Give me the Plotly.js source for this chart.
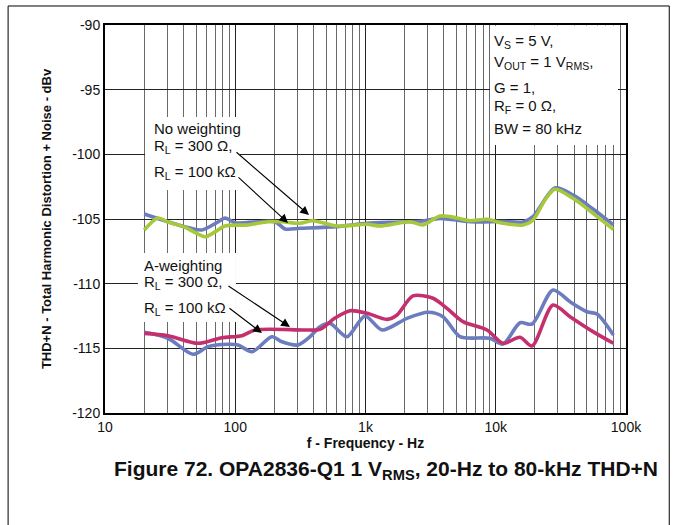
<!DOCTYPE html>
<html>
<head>
<meta charset="utf-8">
<script src="https://cdn.plot.ly/plotly-3.0.1.min.js"></script>
<style>html,body{margin:0;padding:0;background:#fff;}#chart{width:673px;height:525px;}</style>
</head>
<body>
<div id="chart"></div>
<script>
// No weighting, RL = 300 ohm (green)
const nwGreenFreq = [20, 25.5, 30.4, 41.1, 58.6, 69.9, 83.4, 125, 178, 228.5, 314, 395, 604, 1027, 1292, 2196, 2763, 3733, 5040, 6343, 8566, 11370, 16190, 19320, 23880, 28500, 39190, 55810, 80000];
const nwGreenDb = [-105.85, -104.92, -105.23, -105.64, -106.37, -106.0, -105.54, -105.46, -105.21, -105.21, -105.33, -105.13, -105.54, -105.41, -105.54, -105.21, -105.46, -104.77, -104.92, -105.13, -105.02, -105.33, -105.46, -105.08, -103.53, -102.70, -103.40, -104.56, -105.80];
// No weighting, RL = 100 kohm (blue)
const nwBlueFreq = [20, 30.4, 44.9, 55.5, 73.7, 83.4, 100, 202, 241, 314, 604, 1027, 1840, 2763, 3733, 6343, 11370, 16190, 19320, 28500, 39190, 55810, 80000];
const nwBlueDb = [-104.61, -105.21, -105.70, -105.85, -105.23, -104.92, -105.29, -105.21, -105.77, -105.72, -105.59, -105.33, -105.23, -105.15, -104.95, -105.21, -105.19, -105.23, -104.82, -102.60, -103.14, -104.23, -105.46];
// A-weighting, magenta
const awMagFreq = [20, 30.4, 51.8, 79.1, 112.7, 141.8, 343, 447, 583, 760, 1027, 1463, 1745, 2316, 3298, 4223, 5606, 8566, 11370, 15360, 18980, 27510, 37170, 55810, 80000];
const awMagDb = [-113.84, -114.02, -114.61, -114.18, -114.02, -113.58, -113.58, -113.53, -112.66, -112.09, -112.29, -112.76, -112.42, -110.95, -111.13, -111.91, -112.94, -113.58, -114.61, -114.15, -114.82, -111.65, -112.55, -113.71, -114.61];
// A-weighting, blue
const awBlueFreq = [20, 30.4, 47.4, 61.8, 88, 105, 134.5, 191, 228.5, 303, 375, 447, 534, 721, 991, 1339, 2083, 3019, 3936, 5316, 9035, 11370, 15360, 18980, 27510, 37170, 50190, 59900, 80000];
const awBlueDb = [-113.76, -114.22, -115.46, -114.87, -114.69, -114.74, -115.26, -114.10, -114.49, -114.74, -114.10, -113.33, -113.07, -114.10, -112.50, -113.58, -112.68, -112.21, -112.55, -114.10, -114.22, -114.67, -113.02, -113.12, -110.49, -111.40, -112.17, -112.35, -113.97];

// Tick labels
const yTickVals = [-120, -115, -110, -105, -100, -95, -90];
const yTickText = ['-120', '-115', '-110', '-105', '-100', '-95', '-90'];
const xTickVals = [10, 100, 1000, 10000, 100000];
const xTickText = ['10', '100', '1k', '10k', '100k'];

const BLUE = '#6b7cbf', GREEN = '#a6c83a', MAG = '#c4306e';
const FONT = 'Arial, "Liberation Sans", sans-serif';

function tr(x, y, c) {
  return {x: x, y: y, type: 'scatter', mode: 'lines', hoverinfo: 'skip',
          line: {color: c, width: 3.6, shape: 'spline', smoothing: 0.8}};
}
const data = [
  tr(nwBlueFreq, nwBlueDb, BLUE),
  tr(nwGreenFreq, nwGreenDb, GREEN),
  tr(awBlueFreq, awBlueDb, BLUE),
  tr(awMagFreq, awMagDb, MAG)
];

function lbl(x, y, t) {
  return {xref: 'paper', yref: 'paper', x: x, y: y, xanchor: 'left', yanchor: 'middle',
          text: t, showarrow: false, font: {family: FONT, size: 15, color: '#111'}};
}
function arr(x, y, ax, ay) {
  return {x: x, y: y, xref: 'x', yref: 'y', ax: ax, ay: ay, text: '', showarrow: true,
          arrowhead: 2, arrowsize: 1.6, arrowwidth: 1.1, arrowcolor: '#000', standoff: 0};
}
function box(x0, x1, y0, y1) {
  return {type: 'rect', xref: 'paper', yref: 'paper', x0: x0, x1: x1, y0: y0, y1: y1,
          fillcolor: '#fff', line: {width: 0}, layer: 'above'};
}
function frameLine(x0, y0, x1, y1) {
  return {type: 'line', xref: 'paper', yref: 'paper', x0: x0, y0: y0, x1: x1, y1: y1,
          line: {color: '#000', width: 1}};
}

const layout = {
  width: 673, height: 525,
  margin: {l: 105, r: 47, t: 25, b: 112},
  paper_bgcolor: '#fff', plot_bgcolor: '#fff',
  showlegend: false,
  font: {family: FONT, color: '#111'},
  xaxis: {
    type: 'log', range: [1, 5],
    tickmode: 'array', tickvals: xTickVals, ticktext: xTickText,
    showgrid: true, gridcolor: '#222', gridwidth: 1,
    minor: {tickmode: 'linear', dtick: 'D1', showgrid: true, gridcolor: '#6a6a6a', gridwidth: 1, ticks: ''},
    ticks: '', showline: true, linecolor: '#000', linewidth: 2, mirror: true,
    tickfont: {size: 14, family: FONT, color: '#111'},
    zeroline: false,
    title: {text: '<b>f - Frequency - Hz</b>', font: {size: 14, family: FONT, color: '#111'}, standoff: 4}
  },
  yaxis: {
    range: [-120, -90],
    tickmode: 'array', tickvals: yTickVals, ticktext: yTickText,
    showgrid: true, gridcolor: '#222', gridwidth: 1,
    ticks: '', showline: true, linecolor: '#000', linewidth: 2, mirror: true,
    tickfont: {size: 14, family: FONT, color: '#111'},
    zeroline: false,
    title: {text: '<b>THD+N - Total Harmonic Distortion + Noise - dBv</b>', font: {size: 13, family: FONT, color: '#111'}, standoff: 18}
  },
  shapes: [
    box(0.739, 0.9846, 0.6907, 0.999),
    box(0.0768, 0.2591, 0.5747, 0.7629),
    box(0.0633, 0.2514, 0.2345, 0.4124),
    frameLine(-0.186, 1.049, 1.083, 1.049),
    frameLine(-0.186, 1.049, -0.186, -0.30),
    frameLine(1.083, 1.049, 1.083, -0.30)
  ],
  annotations: [
    lbl(0.7428, 0.9562, 'V<sub>S</sub> = 5 V,'),
    lbl(0.7428, 0.9021, 'V<sub>OUT</sub> = 1 V<sub>RMS</sub>,'),
    lbl(0.7428, 0.8402, 'G = 1,'),
    lbl(0.7428, 0.7887, 'R<sub>F</sub> = 0 Ω,'),
    lbl(0.7428, 0.7345, 'BW = 80 kHz'),
    lbl(0.0902, 0.7345, 'No weighting'),
    lbl(0.0902, 0.6856, 'R<sub>L</sub> = 300 Ω,'),
    lbl(0.0902, 0.6211, 'R<sub>L</sub> = 100 kΩ'),
    lbl(0.0710, 0.3814, 'A-weighting'),
    lbl(0.0710, 0.3351, 'R<sub>L</sub> = 300 Ω,'),
    lbl(0.0710, 0.2706, 'R<sub>L</sub> = 100 kΩ'),
    arr(2.566, -104.69, -74, -64),
    arr(2.405, -105.31, -51, -47),
    arr(2.420, -113.35, -63, -42),
    arr(2.205, -113.82, -34, -26),
    {xref: 'paper', yref: 'paper', x: 0.539, y: -0.147, xanchor: 'center', yanchor: 'middle',
     showarrow: false, text: '<b>Figure 72. OPA2836-Q1 1 V<sub>RMS</sub>, 20-Hz to 80-kHz THD+N</b>',
     font: {family: FONT, size: 21, color: '#111'}}
  ]
};

Plotly.newPlot('chart', data, layout, {staticPlot: true, displayModeBar: false});
</script>
</body>
</html>
